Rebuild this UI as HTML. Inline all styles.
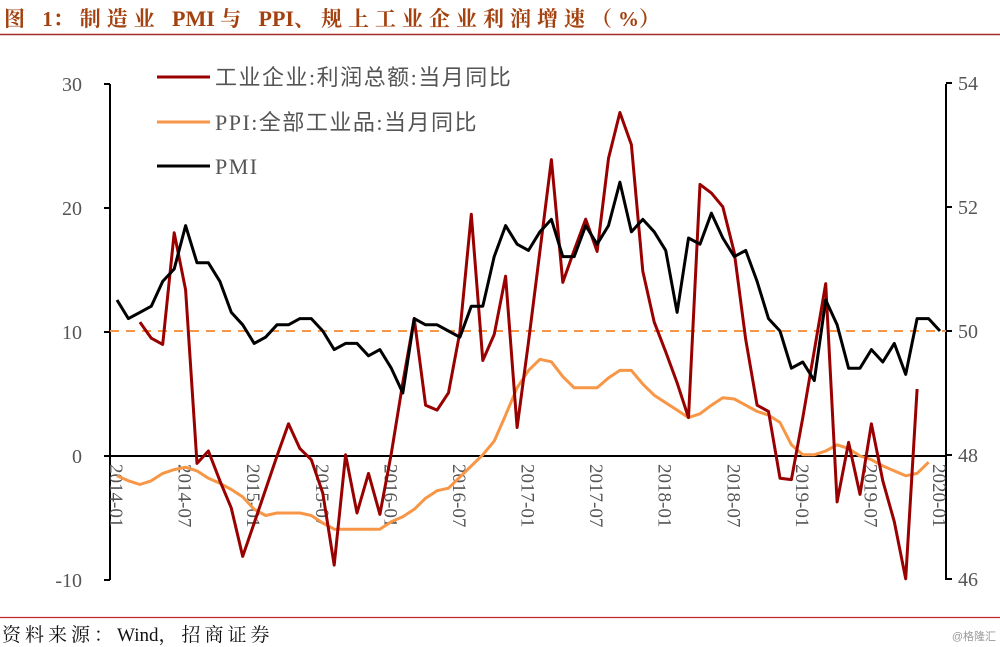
<!DOCTYPE html>
<html><head><meta charset="utf-8">
<style>
html,body{margin:0;padding:0;background:#fff;}
svg{display:block;}
</style></head>
<body>
<svg id="chart" width="1000" height="647" xmlns="http://www.w3.org/2000/svg">
<text x="4" y="26" font-family="'Liberation Serif','Noto Serif CJK SC',serif" font-weight="bold" font-size="21" fill="#A3410F"><tspan letter-spacing="6">图 </tspan><tspan>1</tspan><tspan letter-spacing="6">：制造业 </tspan><tspan font-size="22">PMI </tspan><tspan letter-spacing="6">与 </tspan><tspan font-size="22">PPI</tspan><tspan letter-spacing="6">、规上工业企业利润增速（</tspan><tspan>%</tspan><tspan>）</tspan></text>
<line x1="0" y1="34.5" x2="1000" y2="34.5" stroke="#A52A2A" stroke-width="1.5"/>
<line x1="0" y1="617.5" x2="1000" y2="617.5" stroke="#C0282D" stroke-width="1.2"/>
<text x="2" y="641" font-family="'Liberation Serif','Noto Serif CJK SC',serif" font-size="19" fill="#111"><tspan letter-spacing="4">资料来源：</tspan><tspan>Wind</tspan><tspan letter-spacing="4">，招商证券</tspan></text>
<text x="996" y="640" text-anchor="end" font-family="'Liberation Sans','Noto Sans CJK SC',sans-serif" font-size="11" fill="#999">@格隆汇</text>
<g id="plot"></g>
</svg>
<script>
const months = ['2014-01','2014-07','2015-01','2015-07','2016-01','2016-07','2017-01','2017-07','2018-01','2018-07','2019-01','2019-07','2020-01'];
const leftTicks = [30,20,10,0,-10];
const rightTicks = [54,52,50,48,46];
const profit = [null,null,10.8,9.5,9.0,18.0,13.4,-0.6,0.4,-2.0,-4.2,-8.1,
 -5.4,-2.7,0.0,2.6,0.6,-0.3,-3.0,-8.8,0.1,-4.6,-1.4,-4.7,
 0.2,5.9,11.1,4.1,3.7,5.1,10.0,19.5,7.7,9.8,14.5,2.3,
 9.2,16.5,23.9,14.0,16.6,19.1,16.5,24.0,27.7,25.1,14.9,10.8,
 8.4,5.9,3.1,21.9,21.2,20.1,16.4,9.4,4.1,3.6,-1.8,-1.9,
 3.1,8.5,13.9,-3.7,1.1,-3.1,2.6,-2.0,-5.3,-9.9,5.4];
const ppi = [-1.6,-2.0,-2.3,-2.0,-1.4,-1.1,-0.9,-1.2,-1.8,-2.2,-2.7,-3.3,
 -4.3,-4.8,-4.6,-4.6,-4.6,-4.8,-5.4,-5.9,-5.9,-5.9,-5.9,-5.9,
 -5.3,-4.9,-4.3,-3.4,-2.8,-2.6,-1.7,-0.8,0.1,1.2,3.3,5.5,
 6.9,7.8,7.6,6.4,5.5,5.5,5.5,6.3,6.9,6.9,5.8,4.9,
 4.3,3.7,3.1,3.4,4.1,4.7,4.6,4.1,3.6,3.3,2.7,0.9,
 0.1,0.1,0.4,0.9,0.6,0.0,-0.3,-0.8,-1.2,-1.6,-1.4,-0.5];
const pmi = [50.5,50.2,50.3,50.4,50.8,51.0,51.7,51.1,51.1,50.8,50.3,50.1,
 49.8,49.9,50.1,50.1,50.2,50.2,50.0,49.7,49.8,49.8,49.6,49.7,
 49.4,49.0,50.2,50.1,50.1,50.0,49.9,50.4,50.4,51.2,51.7,51.4,
 51.3,51.6,51.8,51.2,51.2,51.7,51.4,51.7,52.4,51.6,51.8,51.6,
 51.3,50.3,51.5,51.4,51.9,51.5,51.2,51.3,50.8,50.2,50.0,49.4,
 49.5,49.2,50.5,50.1,49.4,49.4,49.7,49.5,49.8,49.3,50.2,50.2,50.0];

const NS='http://www.w3.org/2000/svg';
const g=document.getElementById('plot');
const X0=110,X1=946;
const xS=i=>117+i*(940-117)/72;
const yL=v=>456-(v)*12.4;
const yR=v=>331-(v-50)*62;
function mk(t,a,parent){const e=document.createElementNS(NS,t);for(const k in a)e.setAttribute(k,a[k]);(parent||g).appendChild(e);return e;}
const serif="'Liberation Serif','Noto Serif CJK SC',serif";

let e;
e=mk('line',{x1:X0,y1:84,x2:X0,y2:580,stroke:'#000','stroke-width':2});


e=mk('line',{x1:X1,y1:84,x2:X1,y2:580,stroke:'#000','stroke-width':2});


leftTicks.forEach(v=>{
  const y=yL(v);
  mk('line',{x1:X0-6,y1:y,x2:X0,y2:y,stroke:'#000','stroke-width':2});
  e=mk('text',{x:X0-28,y:y+7,'text-anchor':'end','font-family':serif,'font-size':20,fill:'#555'});
  e.textContent=v;
  
  
});
rightTicks.forEach(v=>{
  const y=yR(v);
  mk('line',{x1:X1,y1:y,x2:X1+6,y2:y,stroke:'#000','stroke-width':2});
  e=mk('text',{x:X1+12,y:y+7,'font-family':serif,'font-size':20,fill:'#555'});
  e.textContent=v;
  
  
});
e=mk('line',{x1:X0,y1:yL(0),x2:X1,y2:yL(0),stroke:'#000','stroke-width':2});


e=mk('line',{x1:X0,y1:yR(50),x2:X1,y2:yR(50),stroke:'#F79646','stroke-width':2,'stroke-dasharray':'9,7'});


months.forEach((m,k)=>{
  const x=xS(k*6);
  e=mk('text',{x:0,y:0,transform:`translate(${x-7},464) rotate(90)`,'font-family':serif,'font-size':19,fill:'#555'});
  e.textContent=m;
  
  
});

function path(arr,yf,color,w,name){
  let d='',pen=false;
  arr.forEach((v,i)=>{if(v==null){pen=false;return;}d+=(pen?'L':'M')+xS(i).toFixed(1)+','+yf(v).toFixed(1);pen=true;});
  const p=mk('path',{d:d,fill:'none',stroke:color,'stroke-width':w,'stroke-linejoin':'round'});
  
  
}
path(ppi,yL,'#F79646',3,'ppi-line');
path(profit,yL,'#990000',3,'profit-line');
path(pmi,yR,'#000',3,'pmi-line');

const leg=[['#990000','工业企业:利润总额:当月同比',77],['#F79646','PPI:全部工业品:当月同比',122],['#000','PMI',166]];
leg.forEach(l=>{
  mk('line',{x1:157,y1:l[2],x2:210,y2:l[2],stroke:l[0],'stroke-width':3});
  e=mk('text',{x:215,y:l[2]+8,'font-family':"'Liberation Serif','Noto Sans CJK SC',serif",'font-size':22,'letter-spacing':'1.5',fill:'#555'});
  e.textContent=l[1];
  
  
});
</script>
</body></html>
